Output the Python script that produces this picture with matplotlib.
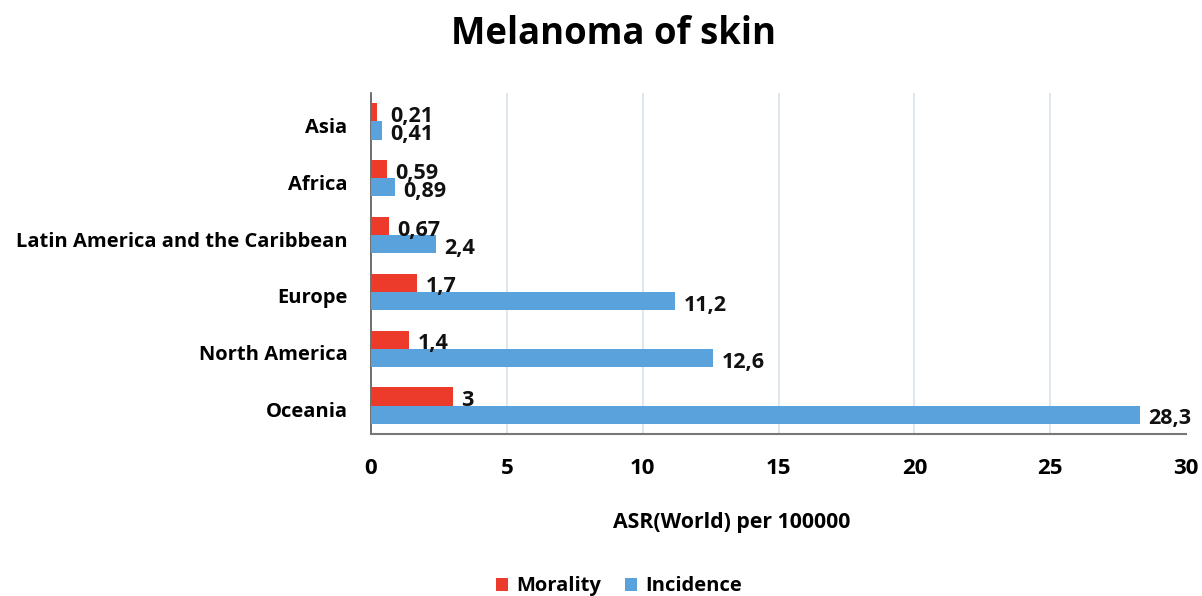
import matplotlib
matplotlib.use("Agg")
import matplotlib.pyplot as plt
from matplotlib.transforms import ScaledTranslation
import numpy as np

regions = ["Asia", "Africa", "Latin America and the Caribbean", "Europe", "North America", "Oceania"]
mortality = [0.21, 0.59, 0.67, 1.7, 1.4, 3]
incidence = [0.41, 0.89, 2.4, 11.2, 12.6, 28.3]
mortality_labels = ["0,21", "0,59", "0,67", "1,7", "1,4", "3"]
incidence_labels = ["0,41", "0,89", "2,4", "11,2", "12,6", "28,3"]
xticks = [0, 5, 10, 15, 20, 25, 30]

plt.rcParams['font.family'] = ['Open Sans', 'DejaVu Sans']
plt.rcParams['font.weight'] = 'bold'

FS = 14.5
FS_TICK = 16
FS_DATA = 15.5

fig = plt.figure(figsize=(12.02, 5.96), dpi=100)
ax = fig.add_axes([0.3087, 0.2718, 0.6780, 0.5722])

red = "#EC3B2B"
blue = "#5AA2DC"
h = 0.32
y = np.arange(len(regions))
ax.barh(y - h / 2, mortality, height=h, color=red, label="Morality", zorder=3)
ax.barh(y + h / 2, incidence, height=h, color=blue, label="Incidence", zorder=3)

min_x = 0.4
for yi, v, t in zip(y, mortality, mortality_labels):
    ax.annotate(t, (max(v, min_x), yi - h / 2), xytext=(6, -3), textcoords="offset points",
                ha="left", va="center", fontsize=FS_DATA, fontweight="bold", color="#111111", zorder=4)
for yi, v, t in zip(y, incidence, incidence_labels):
    ax.annotate(t, (max(v, min_x), yi + h / 2), xytext=(6, -3), textcoords="offset points",
                ha="left", va="center", fontsize=FS_DATA, fontweight="bold", color="#111111", zorder=4)

ax.set_ylim(len(regions) - 0.5, -0.5)
ax.set_xlim(0, 30)
ax.set_yticks(y)
ax.set_yticklabels(regions, fontsize=FS, fontweight="bold")
ax.set_xticks(xticks)
ax.set_xticklabels([str(v) for v in xticks], fontsize=FS_TICK, fontweight="bold")
ax.tick_params(axis="y", length=0, pad=17)
ax.tick_params(axis="x", length=0, pad=17)
shift = ScaledTranslation(0, -4 / 100, fig.dpi_scale_trans)
for lab in ax.get_yticklabels():
    lab.set_transform(lab.get_transform() + shift)

for xv in xticks[1:-1]:
    ax.axvline(xv, color="#D9E1EA", lw=1.2, zorder=1)

for s in ["top", "right"]:
    ax.spines[s].set_visible(False)
ax.spines["left"].set_color("#555555")
ax.spines["bottom"].set_color("#777777")
ax.spines["left"].set_linewidth(1.2)
ax.spines["bottom"].set_linewidth(1.5)

ax.set_xlabel("ASR(World) per 100000", fontsize=15.3, fontweight="bold")
ax.xaxis.set_label_coords(0.442, -0.228)
fig.text(0.51, 0.943, "Melanoma of skin", ha="center", va="center", fontsize=26.3, fontweight="bold")

fig.legend(loc="center", bbox_to_anchor=(0.515, 0.016), ncol=2, frameon=False,
           handlelength=0.6, handleheight=0.6, handletextpad=0.4, columnspacing=1.2,
           prop={"weight": "bold", "size": FS})

fig.savefig("out.png", dpi=100)
